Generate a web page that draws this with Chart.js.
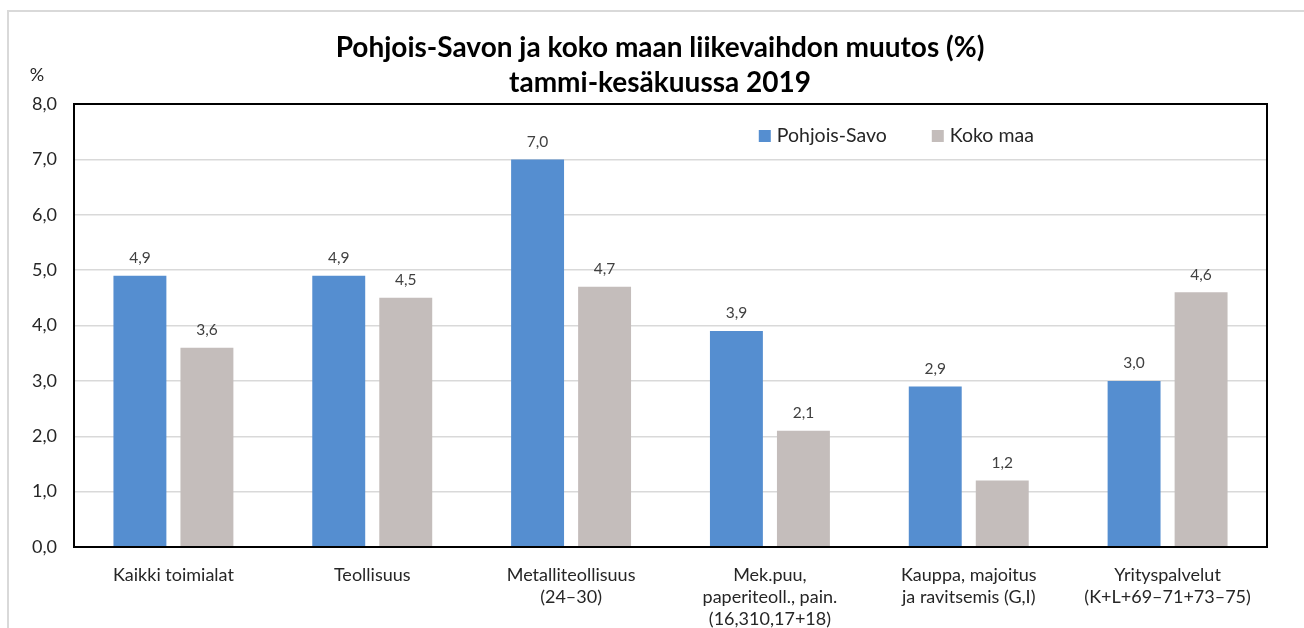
<!DOCTYPE html>
<html lang="fi">
<head>
    <meta charset="UTF-8">
    <title>Liikevaihdon muutos</title>
    <script src="https://cdn.jsdelivr.net/npm/chart.js"></script>
    <style>
        body {
            margin: 0;
            background: white;
            overflow: hidden;
        }
        #frame {
            position: absolute;
            left: 7px;
            top: 10px;
            width: 1400px;
            height: 700px;
            border-left: 2px solid #d9d9d9;
            border-top: 2px solid #d9d9d9;
        }
        #wrap {
            position: absolute;
            left: 0;
            top: 0;
            width: 1304px;
            height: 628px;
        }
    </style>
</head>
<body>
    <div id="frame"></div>
    <div id="wrap"><canvas id="chart"></canvas></div>

    <script>
        // data
        const categories = [
            'Kaikki toimialat',
            'Teollisuus',
            ['Metalliteollisuus', '(24–30)'],
            ['Mek.puu,', 'paperiteoll., pain.', '(16,310,17+18)'],
            ['Kauppa, majoitus', 'ja ravitsemis (G,I)'],
            ['Yrityspalvelut', '(K+L+69–71+73–75)']
        ];
        const pohjoisSavo = [4.9, 4.9, 7.0, 3.9, 2.9, 3.0];
        const kokoMaa = [3.6, 4.5, 4.7, 2.1, 1.2, 4.6];
        const titleLines = ['Pohjois-Savon ja koko maan liikevaihdon muutos (%)', 'tammi-kesäkuussa 2019'];

        const fontFamily = 'Lato, "Open Sans", sans-serif';
        const fmt = v => v.toFixed(1).replace('.', ',');

        // title, % label, box around plot, value labels and the legend inside the plot
        const extras = {
            id: 'extras',
            afterDraw(chart) {
                const ctx = chart.ctx;
                const area = chart.chartArea;
                ctx.save();

                // title
                ctx.fillStyle = '#000';
                ctx.textAlign = 'center';
                ctx.textBaseline = 'middle';
                ctx.font = 'bold 28px ' + fontFamily;
                titleLines.forEach((line, i) => ctx.fillText(line, 660, 48 + i * 35));

                // unit label
                ctx.font = '18px ' + fontFamily;
                ctx.fillStyle = '#262626';
                ctx.fillText('%', 37, 75);

                // plot border
                ctx.strokeStyle = '#000';
                ctx.lineWidth = 2;
                ctx.strokeRect(area.left, area.top, area.right - area.left, area.bottom - area.top);

                // value labels
                ctx.font = '15.5px ' + fontFamily;
                ctx.fillStyle = '#404040';
                ctx.textBaseline = 'bottom';
                chart.data.datasets.forEach((ds, di) => {
                    chart.getDatasetMeta(di).data.forEach((bar, i) => {
                        ctx.fillText(fmt(ds.data[i]), bar.x, bar.y - 10);
                    });
                });

                // legend
                let x = area.left + (area.right - area.left) * 0.574;
                const y = area.top + 32;
                ctx.font = '19.5px ' + fontFamily;
                ctx.textAlign = 'left';
                ctx.textBaseline = 'middle';
                chart.data.datasets.forEach(ds => {
                    ctx.fillStyle = ds.backgroundColor;
                    ctx.fillRect(x, y - 6, 12, 12);
                    ctx.fillStyle = '#262626';
                    ctx.fillText(ds.label, x + 18, y);
                    x += 173;
                });
                ctx.restore();
            }
        };

        new Chart(document.getElementById('chart'), {
            type: 'bar',
            data: {
                labels: categories,
                datasets: [
                    { label: 'Pohjois-Savo', data: pohjoisSavo, backgroundColor: 'rgb(85, 142, 208)' },
                    { label: 'Koko maa', data: kokoMaa, backgroundColor: 'rgb(196, 189, 187)' }
                ]
            },
            options: {
                responsive: true,
                maintainAspectRatio: false,
                animation: false,
                categoryPercentage: 0.674,
                barPercentage: 0.79,
                layout: { padding: { top: 104, right: 37, left: 0, bottom: 0 } },
                plugins: {
                    legend: { display: false },
                    title: { display: false },
                    tooltip: { enabled: false }
                },
                scales: {
                    x: {
                        grid: { display: false, drawTicks: false },
                        border: { display: true, color: '#000', width: 2 },
                        ticks: {
                            color: '#262626',
                            font: { family: fontFamily, size: 18, lineHeight: 1.22 },
                            padding: 17,
                            maxRotation: 0,
                            autoSkip: false
                        },
                        afterFit(scale) { scale.height = 81; }
                    },
                    y: {
                        min: 0,
                        max: 8,
                        grid: { color: '#d9d9d9', lineWidth: 1.5, drawTicks: false },
                        border: { display: true, color: '#000', width: 2 },
                        ticks: {
                            stepSize: 1,
                            color: '#262626',
                            font: { family: fontFamily, size: 18 },
                            padding: 17,
                            callback: v => fmt(v)
                        },
                        afterFit(scale) { scale.width = 74; }
                    }
                }
            },
            plugins: [extras]
        });
    </script>
</body>
</html>
